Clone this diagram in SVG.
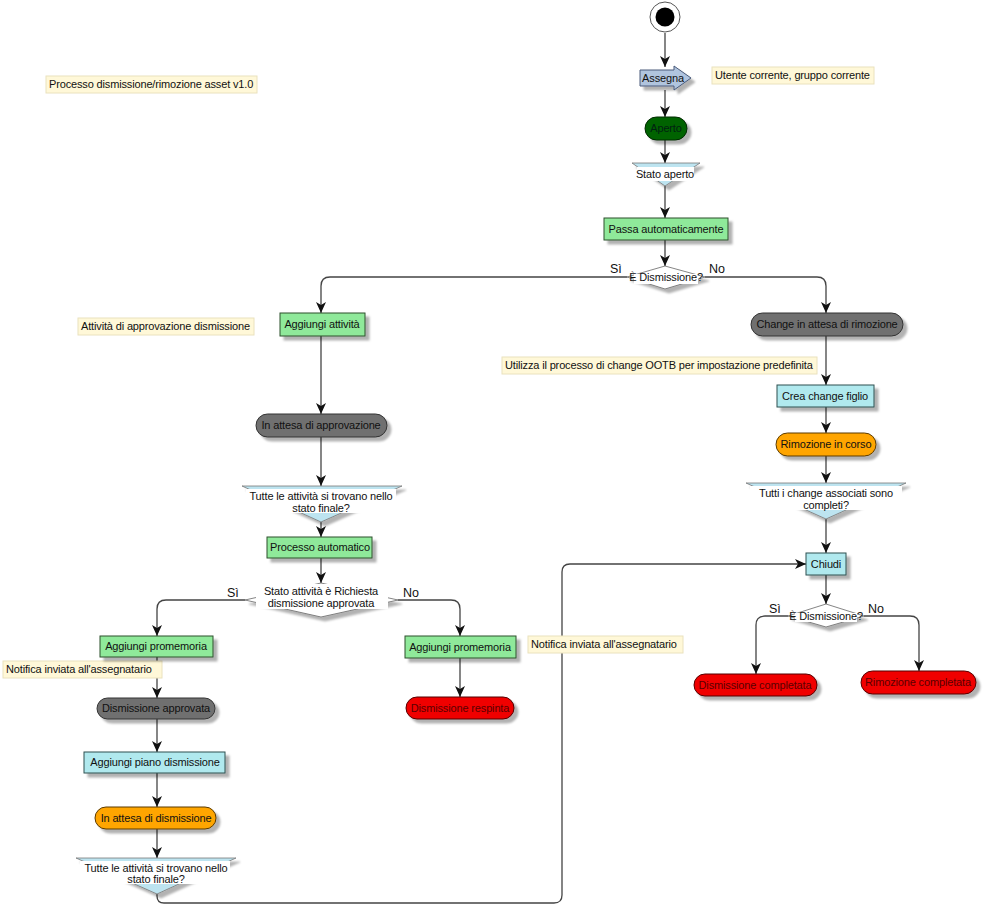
<svg xmlns="http://www.w3.org/2000/svg" width="984" height="908" viewBox="0 0 984 908">
<defs>
<filter id="sh" x="-10%" y="-20%" width="130%" height="160%"><feDropShadow dx="4" dy="4" stdDeviation="1.2" flood-color="#000" flood-opacity="0.3"/></filter>
<marker id="ah" markerUnits="userSpaceOnUse" markerWidth="12" markerHeight="10" refX="11" refY="5" orient="auto"><path d="M0,0 L11,5 L0,10 L3,5 z" fill="#111"/></marker>
<style>
text{font-family:"Liberation Sans",Arial,sans-serif;font-size:11px;letter-spacing:-0.15px;fill:#111;text-anchor:middle}
.lbl{font-size:12.5px;text-anchor:start;letter-spacing:0}
.nt{text-anchor:start}
.note{fill:#FFF8D8;stroke:#EAE2BE;stroke-width:1}
.green{fill:#8FE99A;stroke:#2F4F2F;stroke-width:1}
.cyan{fill:#B0E9EE;stroke:#2F4F4F;stroke-width:1}
.gray{fill:#707070;stroke:#333;stroke-width:1}
.orange{fill:#FFA500;stroke:#5a3a00;stroke-width:1}
.red{fill:#F00000;stroke:#500;stroke-width:1}
.redt{fill:#5a0000}
.merge{fill:#BDE4F0;stroke:#777;stroke-width:0.8}
.dec{fill:#fff;stroke:#666;stroke-width:0.8}
.wbg{fill:#fff}
.sh{filter:url(#sh)}
#connectors path{fill:none;stroke:#444;stroke-width:1.3;marker-end:url(#ah)}
</style>
</defs>
<rect width="984" height="908" fill="#fff"/>

<g id="connectors">
<path d="M665,33 V67"/>
<path d="M665,90 V117"/>
<path d="M665,140 V163"/>
<path d="M665,186 V218"/>
<path d="M665,240 V266"/>
<path d="M627,277 H330 Q321,277 321,286 V313"/>
<path d="M705,277 H817 Q826,277 826,286 V313"/>
<path d="M321,336 V414"/>
<path d="M321,437 V486"/>
<path d="M321,522 V537"/>
<path d="M321,558 V583"/>
<path d="M245,600 H166 Q157,600 157,609 V636"/>
<path d="M398,600 H451 Q460,600 460,609 V636"/>
<path d="M157,657 V698"/>
<path d="M157,719 V752"/>
<path d="M157,773 V807"/>
<path d="M157,829 V858"/>
<path d="M157,894 V896 Q157,903 164,903 H554 Q562,903 562,895 V572 Q562,564 570,564 H806"/>
<path d="M460,658 V697"/>
<path d="M826,336 V385"/>
<path d="M826,407 V433"/>
<path d="M826,456 V483"/>
<path d="M826,519 V553"/>
<path d="M826,575 V604"/>
<path d="M788,616 H765 Q756,616 756,625 V674"/>
<path d="M864,616 H910 Q919,616 919,625 V671"/>
</g>

<g id="note-title"><rect class="note" x="46" y="76" width="211" height="17"/><text class="nt" x="49" y="88">Processo dismissione/rimozione asset v1.0</text></g>
<g id="note-utente"><rect class="note" x="712" y="67" width="162" height="17"/><text class="nt" x="715" y="79">Utente corrente, gruppo corrente</text></g>
<g id="note-attivita"><rect class="note" x="78" y="318" width="176" height="17"/><text class="nt" x="81" y="330">Attività di approvazione dismissione</text></g>
<g id="note-utilizza"><rect class="note" x="502" y="357" width="315" height="17"/><text class="nt" x="505" y="369">Utilizza il processo di change OOTB per impostazione predefinita</text></g>
<g id="note-notifica1"><rect class="note" x="3" y="661" width="159" height="17"/><text class="nt" x="6" y="673">Notifica inviata all'assegnatario</text></g>
<g id="note-notifica2"><rect class="note" x="528" y="636" width="155" height="17"/><text class="nt" x="531" y="648">Notifica inviata all'assegnatario</text></g>

<g id="start"><circle cx="665" cy="17" r="15" fill="#fff" stroke="#555" stroke-width="1"/><circle cx="665" cy="17" r="9.5" fill="#000"/></g>

<g id="assegna"><polygon class="sh" points="640,70 674,70 674,66 691,78 674,90 674,86 640,86" fill="#B0C4DE" stroke="#4A5A7A" stroke-width="1"/><text x="663" y="82">Assegna</text></g>

<g id="aperto"><rect class="sh" x="645" y="117" width="42" height="23" rx="11.5" fill="#006400" stroke="#002800"/><text x="666" y="132" style="fill:#021">Aperto</text></g>

<g id="stato-aperto"><polygon class="merge sh" points="632,163 700,163 665,186"/><rect class="wbg" x="637" y="167" width="57" height="14"/><text x="665" y="178">Stato aperto</text></g>

<g id="passa"><rect class="green sh" x="604" y="218" width="124" height="22"/><text x="666" y="233">Passa automaticamente</text></g>

<g id="dec1"><polygon class="dec sh" points="627,277 665,266 705,277 665,289"/><rect class="wbg" x="634" y="274" width="64" height="10"/><text x="666" y="281">È Dismissione?</text></g>
<text class="lbl" x="610" y="273">Sì</text>
<text class="lbl" x="709" y="273">No</text>

<g id="aggiungi-attivita"><rect class="green sh" x="280" y="313" width="85" height="23"/><text x="322" y="328">Aggiungi attività</text></g>

<g id="attesa-approvazione"><rect class="gray sh" x="256" y="414" width="131" height="23" rx="11.5"/><text x="321" y="429">In attesa di approvazione</text></g>

<g id="merge-attivita1"><polygon class="merge sh" points="242,486 402,486 321,522"/><rect class="wbg" x="246" y="489" width="150" height="24"/><text x="321" y="500">Tutte le attività si trovano nello</text><text x="321" y="512">stato finale?</text></g>

<g id="processo-automatico"><rect class="green sh" x="267" y="537" width="105" height="21"/><text x="320" y="551">Processo automatico</text></g>

<g id="dec2"><polygon class="dec sh" points="245,600 321,583 398,600 321,617"/><rect class="wbg" x="256" y="584" width="132" height="25"/><text x="321" y="595">Stato attività è Richiesta</text><text x="321" y="607">dismissione approvata</text></g>
<text class="lbl" x="227" y="597">Sì</text>
<text class="lbl" x="403" y="597">No</text>

<g id="promemoria1"><rect class="green sh" x="100" y="636" width="113" height="21"/><text x="156" y="650">Aggiungi promemoria</text></g>

<g id="dismissione-approvata"><rect class="gray sh" x="97" y="698" width="118" height="21" rx="10.5"/><text x="156" y="712">Dismissione approvata</text></g>

<g id="piano-dismissione"><rect class="cyan sh" x="84" y="752" width="141" height="21"/><text x="155" y="766">Aggiungi piano dismissione</text></g>

<g id="attesa-dismissione"><rect class="orange sh" x="95" y="807" width="121" height="22" rx="11"/><text x="156" y="822">In attesa di dismissione</text></g>

<g id="merge-attivita2"><polygon class="merge sh" points="76,858 236,858 157,894"/><rect class="wbg" x="80" y="861" width="150" height="23"/><text x="156" y="872">Tutte le attività si trovano nello</text><text x="156" y="883">stato finale?</text></g>

<g id="promemoria2"><rect class="green sh" x="405" y="636" width="111" height="22"/><text x="460" y="651">Aggiungi promemoria</text></g>

<g id="dismissione-respinta"><rect class="red sh" x="406" y="697" width="108" height="22" rx="11"/><text class="redt" x="460" y="712">Dismissione respinta</text></g>

<g id="change-attesa"><rect class="gray sh" x="751" y="313" width="152" height="23" rx="11.5"/><text x="827" y="328">Change in attesa di rimozione</text></g>

<g id="crea-change"><rect class="cyan sh" x="777" y="385" width="97" height="22"/><text x="825" y="400">Crea change figlio</text></g>

<g id="rimozione-corso"><rect class="orange sh" x="776" y="433" width="100" height="23" rx="11.5"/><text x="826" y="448">Rimozione in corso</text></g>

<g id="merge-change"><polygon class="merge sh" points="746,483 906,483 826,519"/><rect class="wbg" x="750" y="486" width="152" height="24"/><text x="826" y="497">Tutti i change associati sono</text><text x="826" y="509">completi?</text></g>

<g id="chiudi"><rect class="cyan sh" x="806" y="553" width="40" height="22"/><text x="826" y="568">Chiudi</text></g>

<g id="dec3"><polygon class="dec sh" points="788,616 826,604 864,616 826,627"/><rect class="wbg" x="795" y="613" width="62" height="9"/><text x="826" y="620">È Dismissione?</text></g>
<text class="lbl" x="769" y="613">Sì</text>
<text class="lbl" x="868" y="613">No</text>

<g id="dismissione-completata"><rect class="red sh" x="694" y="674" width="123" height="22" rx="11"/><text class="redt" x="755" y="689">Dismissione completata</text></g>

<g id="rimozione-completata"><rect class="red sh" x="861" y="671" width="115" height="23" rx="11.5"/><text class="redt" x="918" y="686">Rimozione completata</text></g>
</svg>
